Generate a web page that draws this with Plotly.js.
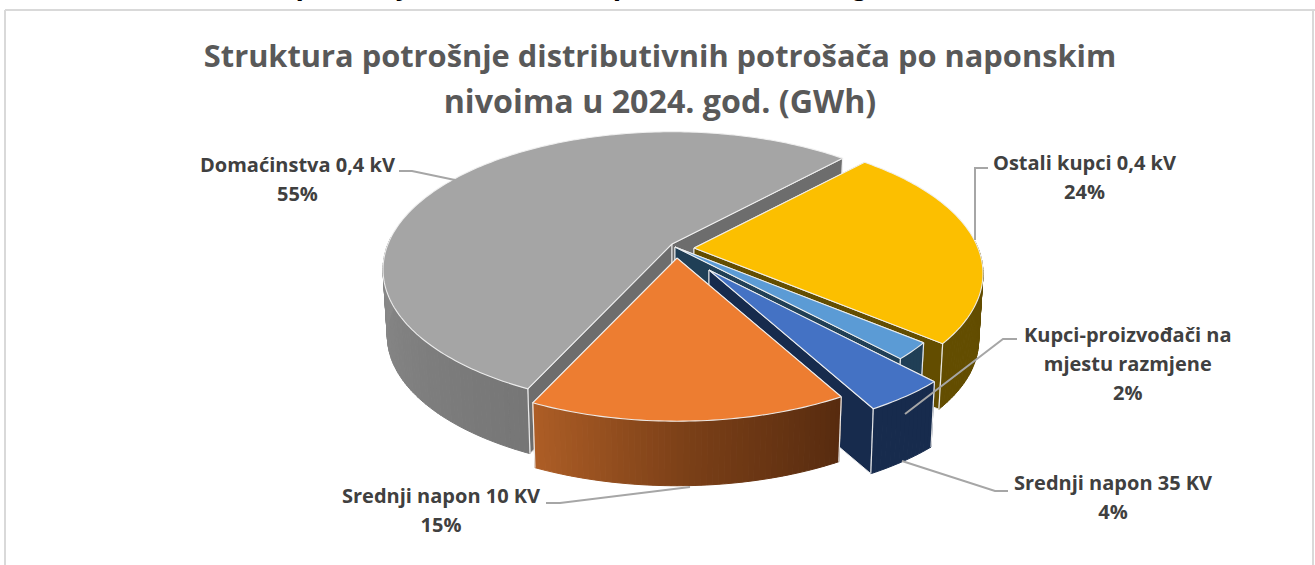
<!DOCTYPE html>
<html><head><meta charset="utf-8">
<script src="https://cdn.plot.ly/plotly-3.0.1.min.js"></script>
<style>html,body{margin:0;padding:0;background:#fff;overflow:hidden}#c{width:1315px;height:565px}</style>
</head><body><div id="c"></div>
<script>
const categories = ["Ostali kupci 0,4 kV","Kupci-proizvođači na mjestu razmjene","Srednji napon 35 KV","Srednji napon 10 KV","Domaćinstva 0,4 kV"];
const shares = [24,2,4,15,55];
const labelLines = [["Ostali kupci 0,4 kV"],["Kupci-proizvođači na","mjestu razmjene"],["Srednji napon 35 KV"],["Srednji napon 10 KV"],["Domaćinstva 0,4 kV"]];
const topColors = ["#fcbf00","#5b9bd5","#4472c4","#ed7d31","#a5a5a5"];
const cutColors = ["#634d00","#203f56","#172b4d","#5a2d10","#6d6d6d"];
const wallStops = [["#634d00","#634d00"],["#203f56","#203f56"],["#172b4d","#172b4d"],["#572b0f","#7a3f17","#ae5e26"],["#767676","#858585","#929292","#929292","#929292"]];
const apexX = [694,675,709,677,672];
const apexY = [248,247,270,258,244];
const labelX = [1084,1128,1113,441,297];
const labelY = [177,363,497,510,179];
const drawOrder = [4,0,1,2,3];
const firstAngle = 43;
const persp = 0.185, radX = 284, radY = 133, depth = 67, shrink = 0.985;

function proj(i, deg, low){
  const t = deg*Math.PI/180, u = Math.sin(t), v = Math.cos(t), w = 1+persp*v;
  const s = low ? shrink : 1;
  return [apexX[i] + s*radX*u/w, apexY[i] - s*radY*v/w + (low?depth:0)];
}
function hex(c){return [1,3,5].map(k=>parseInt(c.substr(k,2),16));}
function mix(stops,f){
  const p = f*(stops.length-1), a = Math.min(Math.floor(p),stops.length-2), r = p-a;
  const A = hex(stops[a]), B = hex(stops[a+1]);
  return 'rgb('+A.map((x,k)=>Math.round(x+(B[k]-x)*r)).join(',')+')';
}
const edge = 'rgba(240,240,240,0.95)';
function poly(pts,fill,line,lw){
  const xs = pts.map(p=>p[0]).concat([pts[0][0]]), ys = pts.map(p=>p[1]).concat([pts[0][1]]);
  return {type:'scatter',mode:'lines',x:xs,y:ys,fill:'toself',fillcolor:fill,line:{color:line,width:lw,simplify:false},hoverinfo:'skip',showlegend:false};
}
function stroke(pts,col,lw){
  return {type:'scatter',mode:'lines',x:pts.map(p=>p[0]),y:pts.map(p=>p[1]),line:{color:col,width:lw,simplify:false},hoverinfo:'skip',showlegend:false};
}
const total = shares.reduce((a,b)=>a+b,0);
let ang = firstAngle; const starts = shares.map(s=>{const a=ang; ang+=s/total*360; return a;});
const traces = [];
drawOrder.forEach(i=>{
  const a0 = starts[i], a1 = a0 + shares[i]/total*360;
  const n = Math.max(2,Math.round(a1-a0)), da = (a1-a0)/n;
  const aT=[apexX[i],apexY[i]], aB=[apexX[i],apexY[i]+depth];
  traces.push(poly([aT,proj(i,a0,false),proj(i,a0,true),aB],cutColors[i],edge,1));
  traces.push(poly([aT,proj(i,a1,false),proj(i,a1,true),aB],cutColors[i],edge,1));
  for(let k=0;k<n;k++){
    const b0=a0+k*da,b1=b0+da,c=mix(wallStops[i],(k+.5)/n);
    if(Math.cos((b0+da/2)*Math.PI/180) > 0.05) continue;   // far side of the rim is hidden by the top face
    traces.push(poly([proj(i,b0,false),proj(i,b1,false),proj(i,b1,true),proj(i,b0,true)],c,c,1));
  }
  traces.push(stroke([proj(i,a0,false),proj(i,a0,true)],edge,1.2));
  traces.push(stroke([proj(i,a1,false),proj(i,a1,true)],edge,1.2));
  const rim=[aT]; for(let k=0;k<=n;k++) rim.push(proj(i,a0+k*da,false));
  traces.push(poly(rim,topColors[i],edge,1.1));
});
const ann = categories.map((c,i)=>({
  xref:'x',yref:'y',x:labelX[i],y:labelY[i],xanchor:'center',yanchor:'middle',showarrow:false,align:'center',
  text:labelLines[i].concat([Math.round(shares[i]/total*100)+'%']).map(t=>'<span style="font-size:20px">'+t+'</span>').join('<br>'),
  font:{family:'Open Sans, sans-serif',size:22.3,color:'#404040',weight:700}
}));
ann.push({xref:'paper',yref:'paper',x:550/1315,y:1-4/565,xanchor:'center',yanchor:'bottom',showarrow:false,
  text:'<b><i>Struktura potrošnje distributivnih potrošača u 2024. godini</i></b>',
  font:{family:'Open Sans, sans-serif',size:27.7,color:'#000'}});
const leaders = [
 [[399,171],[412,171],[455,180]],
 [[988,168],[975,168],[975,240]],
 [[1017,339],[1003,339],[905,414]],
 [[1008,491],[995,491],[902,461]],
 [[546,503],[560,503],[690,487]]
];
const shapes = leaders.map(l=>({type:'path',xref:'x',yref:'y',layer:'above',
  path:'M'+l.map(p=>p.join(',')).join('L'),line:{color:'#a6a6a6',width:2}}));
[[5,10,1315,10],[5,10,5,565],[1313,10,1313,565]].forEach(b=>shapes.push({type:'line',xref:'x',yref:'y',layer:'below',
  x0:b[0],y0:b[1],x1:b[2],y1:b[3],line:{color:'#d9d9d9',width:2}}));
const layout = {
  width:1315,height:565,margin:{l:0,r:0,t:0,b:0},paper_bgcolor:'#fff',plot_bgcolor:'#fff',showlegend:false,
  hovermode:false,
  xaxis:{range:[0,1315],visible:false,fixedrange:true},
  yaxis:{range:[565,0],visible:false,fixedrange:true},
  title:{text:'<span style="font-size:30.8px">Struktura potrošnje distributivnih potrošača po naponskim</span><br><span style="font-size:32.2px">nivoima u 2024. god. (GWh)</span>',
    x:660/1315,xanchor:'center',y:1-67/565,yanchor:'top',yref:'container',
    font:{family:'Open Sans, sans-serif',size:35.5,color:'#595959',weight:700}},
  annotations:ann,shapes:shapes
};
Plotly.newPlot('c',traces,layout,{displayModeBar:false,staticPlot:true});
</script></body></html>
